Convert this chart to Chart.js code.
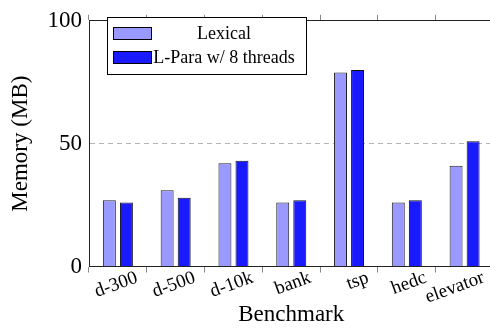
<!DOCTYPE html>
<html>
<head>
<meta charset="utf-8">
<script src="https://cdn.jsdelivr.net/npm/chart.js@4.4.0/dist/chart.umd.min.js"></script>
<style>
  html, body { margin: 0; padding: 0; background: #fff; overflow: hidden; }
  #wrap { width: 500px; height: 332px; }
</style>
</head>
<body>
<div id="wrap"><canvas id="canvas" width="500" height="332"></canvas></div>
<script>
// benchmark names on the x axis
var benchmarks = ["d-300", "d-500", "d-10k", "bank", "tsp", "hedc", "elevator"];
// memory in MB
var lexicalMem = [27, 31, 42, 26, 79, 26, 41];
var lparaMem = [26, 28, 43, 27, 80, 27, 51];
var seriesNames = ["Lexical", "L-Para w/ 8 threads"];
var yTicks = [0, 50, 100];

var serif = "'Liberation Serif', 'Times New Roman', serif";

// legend box drawn inside the plot, text centred like pgfplots does
var boxLegend = {
    id: 'boxLegend',
    afterDraw: function(chart) {
        var ctx = chart.ctx;
        var x0 = 107, y0 = 17, w = 199, h = 57;
        ctx.save();
        ctx.fillStyle = '#fff';
        ctx.fillRect(x0, y0, w, h);
        ctx.strokeStyle = '#000';
        ctx.lineWidth = 1;
        ctx.strokeRect(x0 + 0.5, y0 + 0.5, w, h);
        ctx.font = '18px ' + serif;
        ctx.textAlign = 'center';
        ctx.textBaseline = 'middle';
        chart.data.datasets.forEach(function(ds, i) {
            var sy = 27 + i * 24;
            ctx.fillStyle = ds.backgroundColor;
            ctx.fillRect(113, sy, 39, 13);
            ctx.strokeStyle = '#000';
            ctx.strokeRect(113.5, sy + 0.5, 38, 12);
            ctx.fillStyle = '#000';
            ctx.fillText(ds.label, 224, sy + 7);
        });
        ctx.restore();
    }
};

var ctx = document.getElementById('canvas').getContext('2d');
var myChart = new Chart(ctx, {
    type: 'bar',
    data: {
        labels: benchmarks,
        datasets: [
            {
                label: seriesNames[0],
                data: lexicalMem,
                backgroundColor: '#9999ff',
                borderColor: '#222',
                borderWidth: 1
            },
            {
                label: seriesNames[1],
                data: lparaMem,
                backgroundColor: '#1a1aff',
                borderColor: '#111',
                borderWidth: 1
            }
        ]
    },
    options: {
        responsive: false,
        animation: false,
        layout: { padding: { left: 0, right: 6.5, top: 0, bottom: 0 } },
        datasets: {
            bar: { categoryPercentage: 0.59, barPercentage: 0.76 }
        },
        plugins: {
            legend: { display: false },
            tooltip: { enabled: false }
        },
        scales: {
            x: {
                position: 'bottom',
                afterFit: function(scale) { scale.height = 65.5; },
                grid: {
                    offset: true,
                    drawOnChartArea: false,
                    tickLength: 6,
                    color: '#888'
                },
                border: { color: '#222', width: 1 },
                ticks: {
                    color: '#000',
                    font: { family: serif, size: 19 },
                    minRotation: 20,
                    maxRotation: 20,
                    padding: -6,
                    labelOffset: 19,
                    autoSkip: false
                },
                title: {
                    display: true,
                    text: 'Benchmark',
                    color: '#000',
                    font: { family: serif, size: 23 },
                    padding: { top: 0, bottom: 3 }
                }
            },
            xTop: {
                type: 'category',
                position: 'top',
                labels: benchmarks,
                afterFit: function(scale) { scale.height = 10.5; },
                grid: {
                    offset: true,
                    drawOnChartArea: false,
                    tickLength: 6,
                    color: '#888'
                },
                border: { color: '#222', width: 1 },
                ticks: { display: false }
            },
            y: {
                min: 0,
                max: 100,
                afterFit: function(scale) { scale.width = 89; },
                afterBuildTicks: function(scale) {
                    scale.ticks = yTicks.map(function(v) { return { value: v }; });
                },
                grid: {
                    drawTicks: false,
                    color: function(c) { return c.tick && c.tick.value === 50 ? '#b5b5b5' : 'rgba(0,0,0,0)'; }
                },
                border: { color: '#222', width: 1, dash: [5, 4] },
                ticks: {
                    color: '#000',
                    font: { family: serif, size: 23 },
                    padding: 7
                },
                title: {
                    display: true,
                    text: 'Memory (MB)',
                    color: '#000',
                    font: { family: serif, size: 23 },
                    padding: { top: 7, bottom: 0 }
                }
            }
        }
    },
    plugins: [boxLegend]
});
</script>
</body>
</html>
